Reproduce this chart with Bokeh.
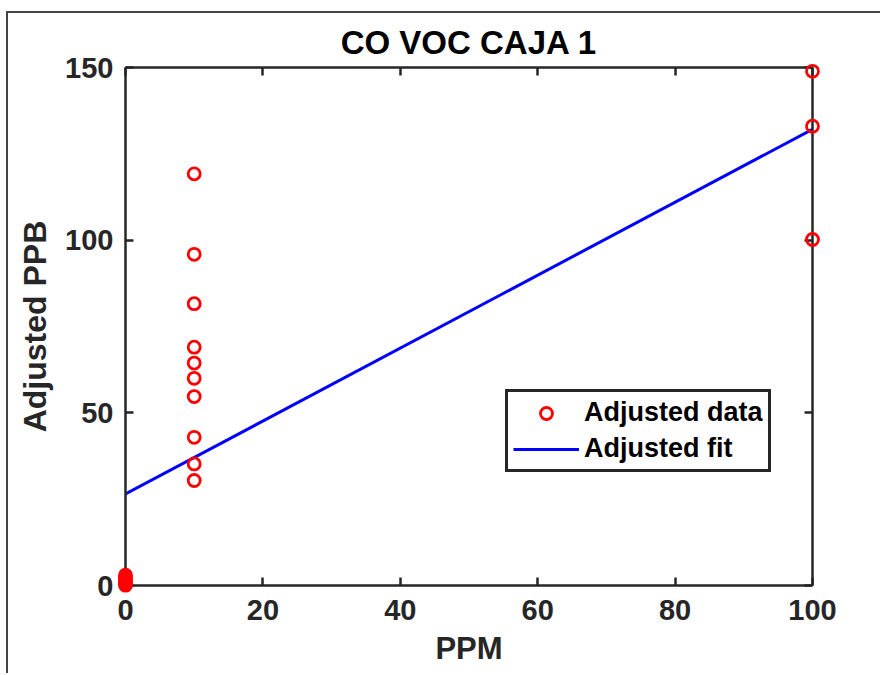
from bokeh.plotting import figure
from bokeh.models import (Range1d, LinearAxis, FixedTicker, Legend, LegendItem,
                          ColumnDataSource)
from bokeh.embed import file_html
from bokeh.resources import INLINE

# Calibration readings, grouped by reference concentration (PPM)
ppm_zero = [0, 0, 0, 0, 0, 0]
ppb_zero = [0.1, 0.6, 1.2, 1.8, 2.4, 3.0]
ppm_ten = [10, 10, 10, 10, 10, 10, 10, 10, 10, 10]
ppb_ten = [119.2, 95.9, 81.6, 69.0, 64.4, 60.0, 54.7, 42.9, 35.2, 30.4]
ppm_hundred = [100, 100, 100]
ppb_hundred = [148.9, 133.0, 100.2]

# Linear fit evaluated at the ends of the PPM range
fit_ppm = [0, 100]
fit_ppb = [26.5, 132.1]

x_ticks = [0, 20, 40, 60, 80, 100]
y_ticks = [0, 50, 100, 150]

INK = "#262626"
FONT = "Liberation Sans"

pts = ColumnDataSource(dict(x=ppm_zero + ppm_ten + ppm_hundred,
                            y=ppb_zero + ppb_ten + ppb_hundred))
fit = ColumnDataSource(dict(x=fit_ppm, y=fit_ppb))

p = figure(width=874, height=662,
           x_range=Range1d(0, 100), y_range=Range1d(0, 150),
           output_backend="svg", toolbar_location=None,
           min_border_left=117, min_border_right=70,
           min_border_top=54, min_border_bottom=90,
           x_axis_label="PPM", y_axis_label="Adjusted PPB",
           margin=(11, 0, 0, 6),
           styles={"border-top": "2px solid #444444",
                   "border-left": "2px solid #444444"})

p.grid.visible = False
p.outline_line_color = None
p.background_fill_color = "white"
p.border_fill_color = "white"

p.title.text = "CO VOC CAJA 1"
p.title.align = "center"
p.title.text_font = FONT
p.title.text_font_style = "bold"
p.title.text_font_size = "33px"
p.title.text_color = "black"
p.title.standoff = 14


def style_axis(ax, ticks, show_labels=True):
    ax.ticker = FixedTicker(ticks=ticks)
    ax.major_tick_in = 8
    ax.major_tick_out = 0
    ax.minor_tick_line_color = None
    ax.axis_line_width = 2.5
    ax.axis_line_color = INK
    ax.major_tick_line_width = 2.5
    ax.major_tick_line_color = INK
    ax.major_label_text_font = FONT
    ax.major_label_text_font_style = "bold"
    ax.major_label_text_font_size = "29px"
    ax.major_label_text_color = INK
    ax.axis_label_text_font = FONT
    ax.axis_label_text_font_style = "bold"
    ax.axis_label_text_font_size = "32px"
    ax.axis_label_text_color = INK
    if not show_labels:
        ax.major_label_overrides = {t: "" for t in ticks}
        ax.major_label_standoff = 0


xb = p.xaxis[0]
yl = p.yaxis[0]
style_axis(xb, x_ticks)
style_axis(yl, y_ticks)
xb.major_label_standoff = 14
xb.axis_label_standoff = 8
xb.axis_label_text_font_size = "31px"
yl.major_label_standoff = 12
yl.axis_label_standoff = 9

# Mirror the box: ticks on the top and right edges, without labels
xt = LinearAxis()
yr = LinearAxis()
style_axis(xt, x_ticks, show_labels=False)
style_axis(yr, y_ticks, show_labels=False)
p.add_layout(xt, "above")
p.add_layout(yr, "right")

r_fit = p.line("x", "y", source=fit, line_color="#0000ff", line_width=3)
r_pts = p.scatter("x", "y", source=pts, marker="circle", size=12,
                  fill_color=None, line_color="#ff0000", line_width=2.8)
r_pts.level = "overlay"

legend = Legend(items=[LegendItem(label="Adjusted data", renderers=[r_pts]),
                       LegendItem(label="Adjusted fit", renderers=[r_fit])],
                location=(380, 113))
legend.label_text_font = FONT
legend.label_text_font_style = "bold"
legend.label_text_font_size = "27px"
legend.label_text_color = "black"
legend.border_line_color = INK
legend.border_line_width = 3
legend.border_line_alpha = 1
legend.background_fill_color = "white"
legend.background_fill_alpha = 1
legend.glyph_width = 66
legend.glyph_height = 30
legend.label_height = 30
legend.label_standoff = 5
legend.padding = 5
legend.spacing = 5
legend.margin = 0
p.add_layout(legend, "center")

open("out.html", "w").write(file_html(p, INLINE))
